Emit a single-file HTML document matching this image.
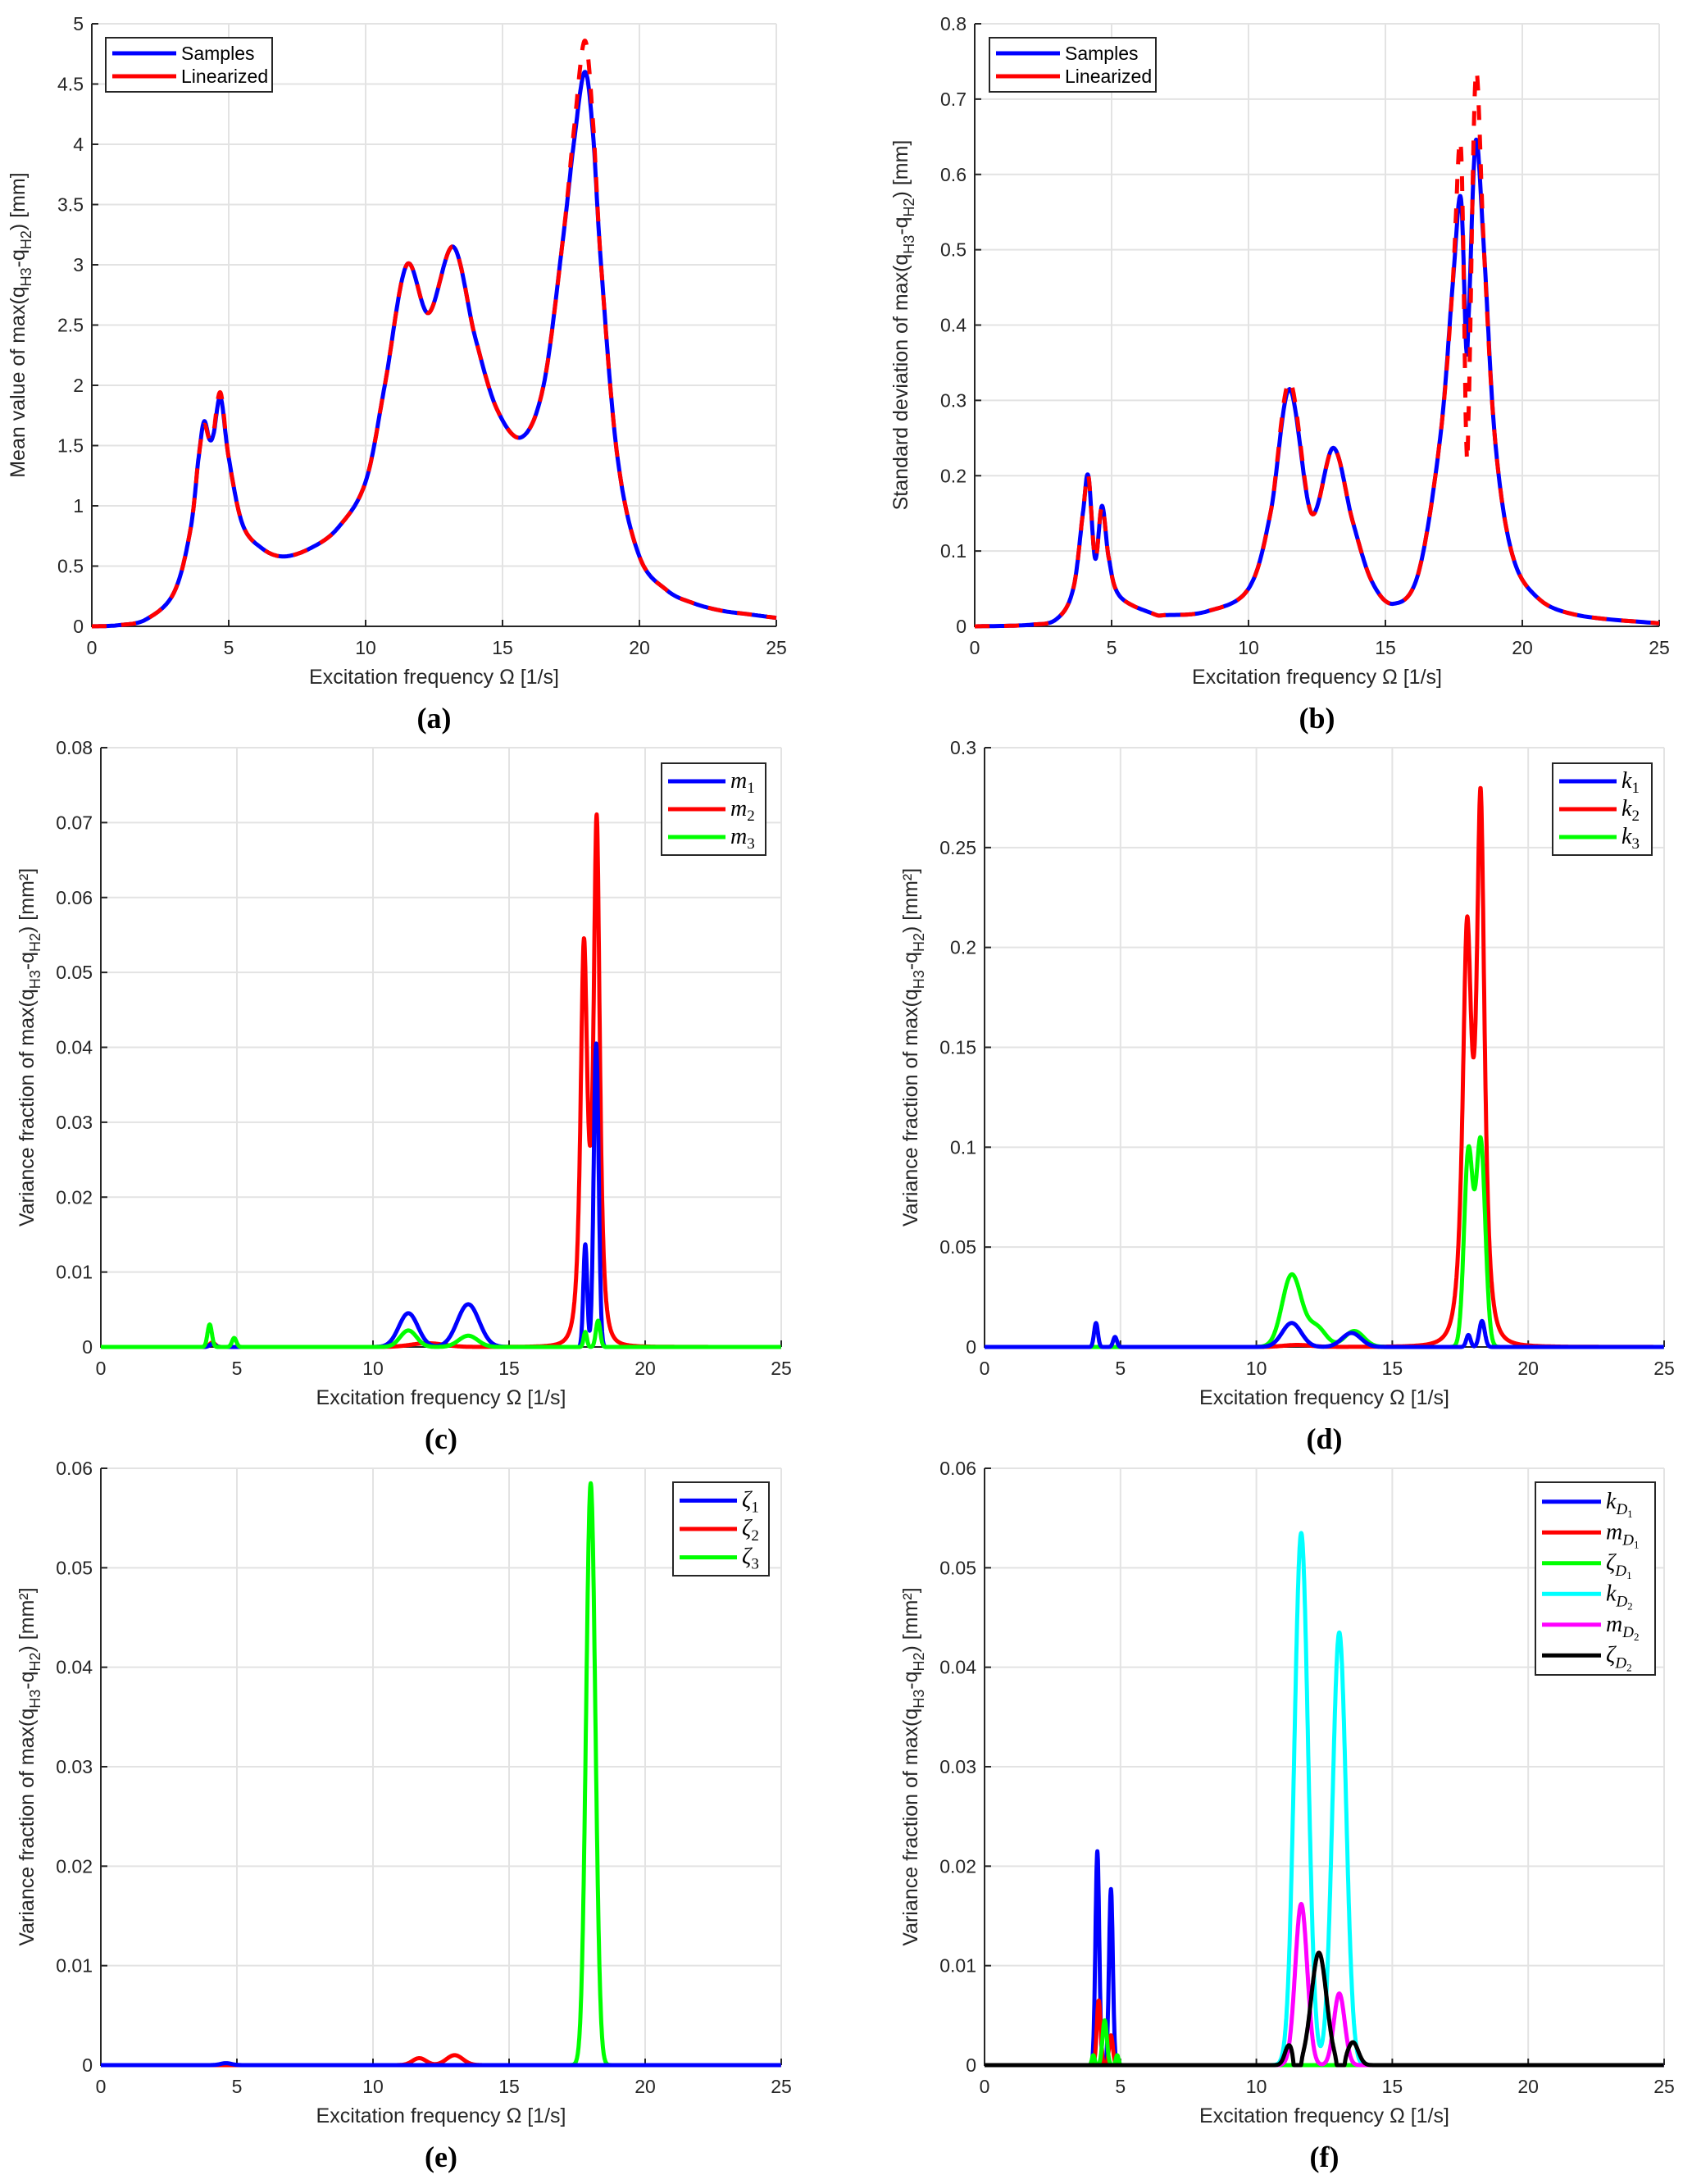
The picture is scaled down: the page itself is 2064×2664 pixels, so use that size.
<!DOCTYPE html>
<html><head><meta charset="utf-8"><style>
html,body{margin:0;padding:0;background:#fff;}
svg{display:block;font-family:"Liberation Sans",sans-serif;}
</style></head><body>
<svg id="s" width="2064" height="2664" viewBox="0 0 2064 2664" xmlns="http://www.w3.org/2000/svg"></svg>
<script>
const S=document.getElementById('s');let out='';
function cr(pts){
  const r=[];for(let i=0;i<pts.length-1;i++){const p0=pts[Math.max(0,i-1)],p1=pts[i],p2=pts[i+1],p3=pts[Math.min(pts.length-1,i+2)];
  for(let t=0;t<1;t+=0.05){const t2=t*t,t3=t2*t;const f=(a,b,c,d)=>0.5*(2*b+(-a+c)*t+(2*a-5*b+4*c-d)*t2+(-a+3*b-3*c+d)*t3);r.push([f(p0[0],p1[0],p2[0],p3[0]),f(p0[1],p1[1],p2[1],p3[1])]);}}
  r.push(pts[pts.length-1]);return r;}
const G=(x,c,s)=>Math.exp(-0.5*((x-c)/s)**2);
const L=(x,c,w)=>1/(1+((x-c)/w)**2);
const Lp=(x,c,w,p)=>L(x,c,w)**p;
function fn(f){const r=[];for(let x=0;x<=25;x+=0.01)r.push([x,Math.max(0,f(x))]);return r;}
function panel(o){
  const {x0,x1,y0,y1,ymax,ticks,ylab,cap,series,legend,lx,ly,lw,lh}=o;
  const X=v=>x0+(x1-x0)*v/25, Y=v=>y1-(y1-y0)*v/ymax;
  for(let v=5;v<=25;v+=5)out+=`<line x1="${X(v)}" y1="${y0}" x2="${X(v)}" y2="${y1}" stroke="#e3e3e3" stroke-width="2"/>`;
  ticks.forEach(t=>{if(t>0)out+=`<line x1="${x0}" y1="${Y(t)}" x2="${x1}" y2="${Y(t)}" stroke="#e3e3e3" stroke-width="2"/>`;});
  out+=`<path d="M${x0} ${y0}V${y1}H${x1}" fill="none" stroke="#262626" stroke-width="2"/>`;
  for(let v=0;v<=25;v+=5){out+=`<line x1="${X(v)}" y1="${y1}" x2="${X(v)}" y2="${y1-8}" stroke="#262626" stroke-width="2"/><text x="${X(v)}" y="${y1+34}" font-size="23" text-anchor="middle" fill="#262626">${v}</text>`;}
  ticks.forEach(t=>{out+=`<line x1="${x0}" y1="${Y(t)}" x2="${x0+8}" y2="${Y(t)}" stroke="#262626" stroke-width="2"/><text x="${x0-10}" y="${Y(t)+8}" font-size="23" text-anchor="end" fill="#262626">${+t.toFixed(3)}</text>`;});
  out+=`<text x="${(x0+x1)/2}" y="${y1+70}" font-size="25" text-anchor="middle" fill="#262626">Excitation frequency Ω [1/s]</text>`;
  const cx=x0-82,cy=(y0+y1)/2;
  out+=`<text transform="translate(${cx},${cy}) rotate(-90)" font-size="25" text-anchor="middle" fill="#262626">${ylab} of max(q<tspan font-size="18" dy="8">H3</tspan><tspan dy="-8">-q</tspan><tspan font-size="18" dy="8">H2</tspan><tspan dy="-8">) [${o.unit}]</tspan></text>`;
  out+=`<text x="${(x0+x1)/2}" y="${y1+124}" font-size="36" font-weight="bold" text-anchor="middle" font-family="Liberation Serif,serif">(${cap})</text>`;
  series.forEach(s=>{const d=s.pts.map((p,i)=>(i?'L':'M')+X(p[0]).toFixed(1)+' '+Y(Math.min(p[1],ymax*1.02)).toFixed(1)).join('');
    out+=`<path d="${d}" fill="none" stroke="${s.c}" stroke-width="5" stroke-linejoin="round" ${s.dash?'stroke-dasharray="18 18"':''}/>`;});
  out+=`<rect x="${lx}" y="${ly}" width="${lw}" height="${lh}" fill="#fff" stroke="#262626" stroke-width="2"/>`;
  const n=legend.length,step=(lh-10)/n;const ll=o.ll||(o.math?70:78);
  legend.forEach((l,i)=>{const yy=ly+5+step*(i+0.5);out+=`<line x1="${lx+8}" y1="${yy}" x2="${lx+8+ll}" y2="${yy}" stroke="${l.c}" stroke-width="5"/><text x="${lx+14+ll}" y="${yy+8}" font-size="${o.math?28:23}" ${o.math?'font-family="Liberation Serif,serif" font-style="italic"':''} fill="#000">${l.t}</text>`;});
}
const aS=cr([[0,0],[1,0.01],[2,0.06],[3,0.28],[3.6,0.8],[3.9,1.4],[4.1,1.7],[4.3,1.55],[4.45,1.6],[4.7,1.9],[5,1.4],[5.5,0.85],[6.2,0.65],[7,0.58],[8,0.65],[9,0.82],[10,1.2],[10.7,2.0],[11.5,3.0],[12.3,2.6],[13.2,3.15],[14,2.4],[14.8,1.8],[15.7,1.57],[16.5,2.0],[17.2,3.2],[17.6,4.0],[18,4.6],[18.3,4.1],[18.6,3.0],[19.2,1.4],[20,0.58],[21,0.3],[22,0.19],[23,0.13],[24,0.1],[25,0.07]]);
const aR=cr([[0,0],[1,0.01],[2,0.06],[3,0.28],[3.6,0.8],[3.9,1.4],[4.1,1.67],[4.3,1.55],[4.45,1.62],[4.7,1.94],[5,1.4],[5.5,0.85],[6.2,0.65],[7,0.58],[8,0.65],[9,0.82],[10,1.2],[10.7,2.0],[11.5,3.0],[12.3,2.6],[13.2,3.15],[14,2.4],[14.8,1.8],[15.7,1.57],[16.5,2.0],[17.2,3.2],[17.6,4.1],[18,4.86],[18.3,4.2],[18.6,3.0],[19.2,1.4],[20,0.58],[21,0.3],[22,0.19],[23,0.13],[24,0.1],[25,0.07]]);
panel({x0:112,x1:947,y0:29,y1:764,ymax:5,ticks:[0,.5,1,1.5,2,2.5,3,3.5,4,4.5,5],ylab:'Mean value',unit:'mm',cap:'a',
 series:[{pts:aS,c:'#0000ff'},{pts:aR,c:'#ff0000',dash:1}],legend:[{t:'Samples',c:'#0000ff'},{t:'Linearized',c:'#ff0000'}],lx:129,ly:46,lw:203,lh:66});
const bp=(p1,p2,p3)=>cr([[0,0],[2,0.002],[3,0.01],[3.6,0.05],[3.95,0.15],[4.15,0.2],[4.4,0.09],[4.65,0.16],[4.9,0.09],[5.3,0.04],[6.5,0.017],[7,0.015],[8.5,0.02],[10,0.05],[10.8,0.15],[11.5,p1],[12.3,0.15],[13.1,0.237],[13.8,0.14],[14.5,0.06],[15.3,0.03],[16.2,0.07],[17,0.25],[17.45,0.45],[17.75,p2[0]],[17.95,p2[1]],[18.05,p2[1]+0.05],[18.3,p3],[18.6,0.5],[19,0.25],[19.6,0.1],[20.5,0.04],[22,0.015],[25,0.004]]);
panel({x0:1189,x1:2024,y0:29,y1:764,ymax:0.8,ticks:[0,.1,.2,.3,.4,.5,.6,.7,.8],ylab:'Standard deviation',unit:'mm',cap:'b',
 series:[{pts:bp(0.315,[0.57,0.37],0.645),c:'#0000ff'},{pts:bp(0.325,[0.64,0.25],0.733),c:'#ff0000',dash:1}],legend:[{t:'Samples',c:'#0000ff'},{t:'Linearized',c:'#ff0000'}],lx:1207,ly:46,lw:203,lh:66});
const sb=(a,b)=>`${a}<tspan font-size="19" font-style="normal" dy="6">${b}</tspan>`;
panel({x0:123,x1:953,y0:912,y1:1643,ymax:0.08,ticks:[0,.01,.02,.03,.04,.05,.06,.07,.08],ylab:'Variance fraction',unit:'mm²',cap:'c',
 series:[
 {pts:fn(x=>0.052*Lp(x,17.75,0.2,1.6)+0.0685*Lp(x,18.22,0.18,1.6)+0.0006*G(x,4.1,0.1)+0.0005*G(x,12,0.6)),c:'#ff0000'},
 {pts:fn(x=>0.0045*G(x,11.3,0.35)+0.0057*G(x,13.5,0.4)+0.0137*G(x,17.8,0.07)+0.0405*G(x,18.2,0.09)+0.0004*G(x,4.1,0.1)),c:'#0000ff'},
 {pts:fn(x=>0.003*G(x,4.0,0.08)+0.0012*G(x,4.9,0.08)+0.0022*G(x,11.3,0.3)+0.0015*G(x,13.5,0.35)+0.002*G(x,17.8,0.06)+0.0035*G(x,18.27,0.08)),c:'#00ff00'}],
 legend:[{t:sb('m',1),c:'#0000ff'},{t:sb('m',2),c:'#ff0000'},{t:sb('m',3),c:'#00ff00'}],lx:807,ly:931,lw:127,lh:112,math:1});
panel({x0:1201,x1:2030,y0:912,y1:1643,ymax:0.3,ticks:[0,.05,.1,.15,.2,.25,.3],ylab:'Variance fraction',unit:'mm²',cap:'d',
 series:[
 {pts:fn(x=>0.198*Lp(x,17.75,0.25,1.5)+0.262*Lp(x,18.25,0.22,1.5)+0.001*G(x,11.5,0.5)),c:'#ff0000'},
 {pts:fn(x=>0.036*G(x,11.3,0.35)+0.01*G(x,12.2,0.35)+0.008*G(x,13.6,0.35)+0.097*G(x,17.8,0.16)+0.103*G(x,18.25,0.17)),c:'#00ff00'},
 {pts:fn(x=>0.012*G(x,4.1,0.07)+0.005*G(x,4.8,0.07)+0.012*G(x,11.3,0.35)+0.007*G(x,13.5,0.35)+0.006*G(x,17.8,0.08)+0.013*G(x,18.3,0.1)),c:'#0000ff'}],
 legend:[{t:sb('k',1),c:'#0000ff'},{t:sb('k',2),c:'#ff0000'},{t:sb('k',3),c:'#00ff00'}],lx:1894,ly:931,lw:121,lh:112,math:1});
panel({x0:123,x1:953,y0:1791,y1:2519,ymax:0.06,ticks:[0,.01,.02,.03,.04,.05,.06],ylab:'Variance fraction',unit:'mm²',cap:'e',
 series:[
 {pts:fn(x=>0.0585*G(x,18.0,0.17)),c:'#00ff00'},
 {pts:fn(x=>0.0007*G(x,11.7,0.25)+0.001*G(x,13,0.3)),c:'#ff0000'},
 {pts:fn(x=>0.0002*G(x,4.6,0.2)),c:'#0000ff'}],
 legend:[{t:sb('ζ',1),c:'#0000ff'},{t:sb('ζ',2),c:'#ff0000'},{t:sb('ζ',3),c:'#00ff00'}],lx:821,ly:1808,lw:117,lh:114,math:1});
const sub=(a,b)=>`${a}<tspan font-size="19" dy="7">D</tspan><tspan font-size="13" font-style="normal" dy="4">${b}</tspan>`;
panel({x0:1201,x1:2030,y0:1791,y1:2519,ymax:0.06,ticks:[0,.01,.02,.03,.04,.05,.06],ylab:'Variance fraction',unit:'mm²',cap:'f',
 series:[
 {pts:fn(x=>0.0215*G(x,4.15,0.07)+0.0177*G(x,4.65,0.07)),c:'#0000ff'},
 {pts:fn(x=>0.0065*G(x,4.2,0.07)+0.003*G(x,4.65,0.07)),c:'#ff0000'},
 {pts:fn(x=>0.0045*G(x,4.42,0.08)+0.001*G(x,4.0,0.05)+0.001*G(x,4.88,0.05)),c:'#00ff00'},
 {pts:fn(x=>0.0535*G(x,11.65,0.25)+0.0435*G(x,13.05,0.25)),c:'#00ffff'},
 {pts:fn(x=>0.0162*G(x,11.65,0.22)+0.0072*G(x,13.05,0.2)),c:'#ff00ff'},
 {pts:fn(x=>0.0113*G(x,12.3,0.28)+0.002*G(x,11.2,0.15)+0.0023*G(x,13.55,0.2)-0.004*G(x,11.5,0.08)-0.004*G(x,13.1,0.08)),c:'#000000'}],
 legend:[{t:sub('k',1),c:'#0000ff'},{t:sub('m',1),c:'#ff0000'},{t:sub('ζ',1),c:'#00ff00'},{t:sub('k',2),c:'#00ffff'},{t:sub('m',2),c:'#ff00ff'},{t:sub('ζ',2),c:'#000000'}],lx:1873,ly:1808,lw:146,lh:235,math:1,ll:72});
S.innerHTML=out;
</script>
</body></html>
